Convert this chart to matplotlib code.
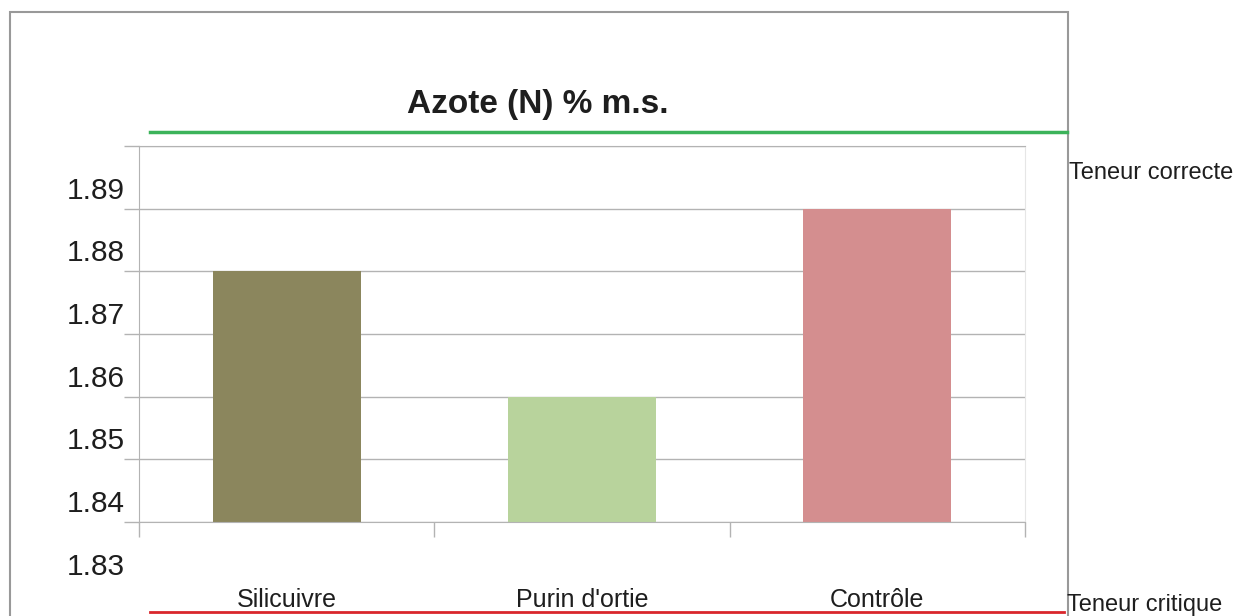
import matplotlib.pyplot as plt
import matplotlib.transforms as mtransforms
from matplotlib.patches import Rectangle
from matplotlib.lines import Line2D

plt.rcParams['font.family'] = ['Liberation Sans', 'DejaVu Sans']

# --- data ---
categories = ["Silicuivre", "Purin d'ortie", "Contrôle"]
values = [1.88, 1.86, 1.89]
bar_colors = ["#8b865d", "#b8d39c", "#d48e8f"]
ytick_values = [1.84, 1.85, 1.86, 1.87, 1.88, 1.89, 1.90]
ylabel_values = [1.83, 1.84, 1.85, 1.86, 1.87, 1.88, 1.89]
title = "Azote (N) % m.s."
ref_labels = ["Teneur correcte", "Teneur critique"]

fig = plt.figure(figsize=(12.35, 6.16), dpi=100)
ax = fig.add_axes([139/1235, 1 - 522/616, (1025-139)/1235, (522-146)/616])

x = list(range(len(categories)))
ax.bar(x, values, width=0.5, color=bar_colors, zorder=2)

ax.set_xlim(-0.5, len(categories) - 0.5)
ax.set_ylim(1.84, 1.90)

# gridlines and ticks
ax.set_yticks(ytick_values)
ax.set_yticklabels([])
ax.set_xticks([i - 0.5 for i in range(len(categories) + 1)])
ax.set_xticklabels([])
ax.tick_params(axis='both', length=11, width=1, color='#b3b3b3', direction='out')
ax.grid(axis='y', color='#b3b3b3', linewidth=1, zorder=0)

for side in ['left', 'bottom', 'top']:
    ax.spines[side].set_color('#b3b3b3')
ax.spines['right'].set_color('#e6e6e6')

# y labels (drawn shifted above their gridline, as in the original)
ylab_trans = ax.get_yaxis_transform() + mtransforms.ScaledTranslation(-0.14, 0.10, fig.dpi_scale_trans)
for v in ylabel_values:
    ax.text(0, v, f"{v:.2f}", transform=ylab_trans, ha='right', va='baseline',
            fontsize=21.5, color='#1e1e1e', clip_on=False)

# category labels
xlab_trans = ax.get_xaxis_transform() + mtransforms.ScaledTranslation(0, -0.85, fig.dpi_scale_trans)
for i, c in enumerate(categories):
    ax.text(i, 0, c, transform=xlab_trans, ha='center', va='baseline',
            fontsize=18, color='#1e1e1e', clip_on=False)

# title
fig.text(538/1235, 1 - 113/616, title, ha='center', va='baseline',
         fontsize=24, fontweight='bold', color='#1e1e1e')

# frame around the chart
fig.patches.append(Rectangle((10/1235, -0.05), (1068-10)/1235, 1.05 - 12/616,
                             transform=fig.transFigure, fill=False,
                             edgecolor='#999999', linewidth=1.5))

# reference lines
fig.lines.append(Line2D([150/1235, 1067/1235], [1 - 132/616, 1 - 132/616],
                        transform=fig.transFigure, color='#3cb35a', linewidth=2.5))
fig.lines.append(Line2D([150/1235, 1064/1235], [1 - 612/616, 1 - 612/616],
                        transform=fig.transFigure, color='#d9262c', linewidth=2))

fig.text(1069/1235, 1 - 179/616, ref_labels[0], ha='left', va='baseline',
         fontsize=17, color='#1e1e1e')
fig.text(1067/1235, 1 - 611/616, ref_labels[1], ha='left', va='baseline',
         fontsize=17, color='#1e1e1e')

fig.savefig("out.png", dpi=100)
